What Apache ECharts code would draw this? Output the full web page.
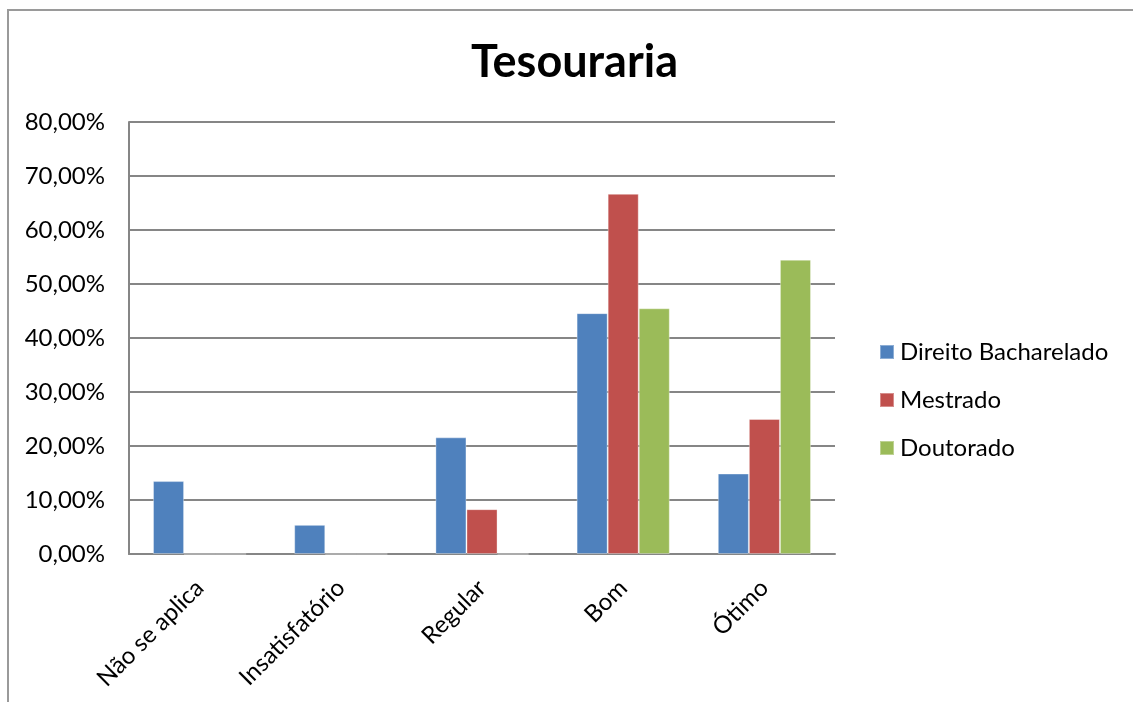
<!DOCTYPE html>
<html>
<head>
<meta charset="utf-8">
<script src="https://cdn.jsdelivr.net/npm/echarts@6/dist/echarts.min.js"></script>
<style>
  html, body { margin: 0; padding: 0; background: #fff; }
  #chart { width: 1133px; height: 702px; }
</style>
</head>
<body>
<div id="chart"></div>
<script>
const categories = ['Não se aplica', 'Insatisfatório', 'Regular', 'Bom', 'Ótimo']
const seriesNames = ['Direito Bacharelado', 'Mestrado', 'Doutorado']
const direito = [13.5, 5.4, 21.6, 44.6, 14.9]
const mestrado = [0, 0, 8.3, 66.7, 25.0]
const doutorado = [0, 0, 0, 45.5, 54.5]
const colors = ['#4F81BD', '#C0504D', '#9BBB59']

const font = 'Lato, "Open Sans", sans-serif'

const chart = echarts.init(document.getElementById('chart'))

const makeSeries = (name, data, i) => ({
  name,
  type: 'bar',
  data,
  barGap: '0%',
  barCategoryGap: '34%',
  itemStyle: { color: colors[i], borderColor: 'rgba(255,255,255,0.35)', borderWidth: 1 },
  animation: false,
})

chart.setOption({
  animation: false,
  graphic: [{
    type: 'rect',
    shape: { x: 8, y: 10, width: 1300, height: 900 },
    style: { fill: 'none', stroke: '#9a9a9a', lineWidth: 2 },
    silent: true,
  }],
  title: {
    text: 'Tesouraria',
    left: 466,
    top: 35,
    textStyle: { fontFamily: font, fontSize: 45, fontWeight: 'bold', color: '#000' },
  },
  legend: {
    orient: 'vertical',
    left: 879,
    top: 340,
    padding: 0,
    itemWidth: 14,
    itemHeight: 14,
    itemGap: 24,
    icon: 'rect',
    textStyle: { fontFamily: font, fontSize: 24, lineHeight: 24, color: '#000', padding: [0, 0, 0, 1] },
    data: seriesNames,
  },
  grid: { left: 129, top: 122, right: 298, bottom: 148, containLabel: false },
  xAxis: {
    type: 'category',
    data: categories,
    axisLine: { lineStyle: { color: '#868686', width: 2 } },
    axisTick: { show: false },
    axisLabel: {
      rotate: 45,
      margin: 30,
      fontFamily: font,
      fontSize: 24,
      color: '#000',
      interval: 0,
    },
  },
  yAxis: {
    type: 'value',
    min: 0,
    max: 80,
    interval: 10,
    axisLine: { show: true, lineStyle: { color: '#868686', width: 2 } },
    axisTick: { show: false },
    splitLine: { lineStyle: { color: '#868686', width: 2 } },
    axisLabel: {
      margin: 24,
      fontFamily: font,
      fontSize: 24,
      color: '#000',
      formatter: v => v.toFixed(2).replace('.', ',') + '%',
    },
  },
  series: [
    makeSeries(seriesNames[0], direito, 0),
    makeSeries(seriesNames[1], mestrado, 1),
    makeSeries(seriesNames[2], doutorado, 2),
  ],
})
</script>
</body>
</html>
